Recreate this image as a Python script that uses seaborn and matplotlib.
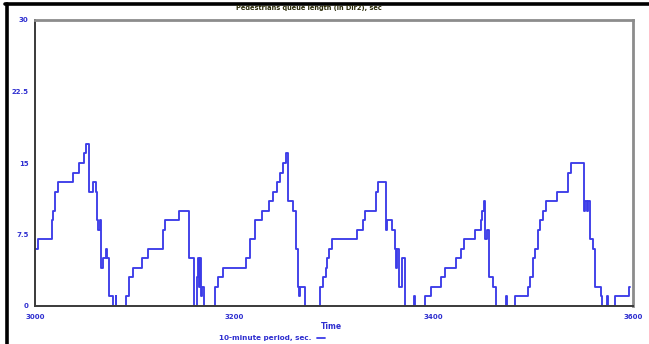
import matplotlib
matplotlib.use("Agg")
import matplotlib.pyplot as plt
from matplotlib.lines import Line2D
import seaborn as sns
import pandas as pd

# Queue length breakpoints (time in s, queue length in s); held until the next breakpoint
times = [3001, 3003, 3017, 3018, 3020, 3023, 3038, 3044, 3049, 3051,
         3054, 3058, 3061, 3062, 3063, 3065, 3066, 3068, 3071, 3072,
         3074, 3078, 3081, 3081.6, 3091, 3094, 3098, 3107, 3113, 3128,
         3130, 3144, 3155, 3160, 3163, 3164, 3165, 3166, 3167, 3168,
         3170, 3181, 3184, 3189, 3212, 3216, 3221, 3228, 3235, 3239,
         3243, 3246, 3249, 3252, 3254, 3259, 3262, 3264, 3265, 3266,
         3271, 3286, 3289, 3292, 3293, 3295, 3298, 3323, 3329, 3331,
         3342, 3344, 3352, 3353, 3358, 3361, 3362, 3363, 3365, 3368,
         3371, 3380, 3381, 3391, 3397, 3407, 3411, 3422, 3427, 3430,
         3441, 3447, 3448, 3451, 3452, 3454, 3456, 3460, 3463, 3473,
         3474, 3482, 3495, 3497, 3500, 3502, 3505, 3507, 3510, 3513,
         3524, 3535, 3538, 3551, 3552, 3554, 3555, 3557, 3560, 3562,
         3568, 3569, 3574, 3575, 3582, 3596, 3597]
queue = [6, 7, 9, 10, 12, 13, 14, 15, 16, 17,
         12, 13, 12, 9, 8, 9, 4, 5, 6, 5,
         1, 0, 1, 0, 1, 3, 4, 5, 6, 8,
         9, 10, 5, 0, 3, 5, 2, 5, 1, 2,
         0, 2, 3, 4, 5, 7, 9, 10, 11, 12,
         13, 14, 15, 16, 11, 10, 6, 2, 1, 2,
         0, 2, 3, 4, 5, 6, 7, 8, 9, 10,
         12, 13, 8, 9, 8, 6, 4, 6, 2, 5,
         0, 1, 0, 1, 2, 3, 4, 5, 6, 7,
         8, 9, 10, 11, 7, 8, 3, 2, 0, 1,
         0, 1, 2, 3, 5, 6, 8, 9, 10, 11,
         12, 14, 15, 10, 11, 10, 11, 7, 6, 2,
         1, 0, 1, 0, 1, 2, 2]

x_ticks = [3000, 3100, 3200, 3300, 3400, 3500, 3600]
x_tick_labels = ["3000", "", "3200", "", "3400", "", "3600"]
y_ticks = [0, 7.5, 15, 22.5, 30]
y_tick_labels = ["0", "7.5", "15", "22.5", "30"]

title = "Pedestrians queue length (in Dir2), sec"
x_label = "Time"
series_label = "10-minute period, sec."

line_blue = "#3c3ce8"
text_blue = "#2f2fd0"

sns.set_style("white")
plt.rcParams["font.family"] = ["DejaVu Sans"]

df = pd.DataFrame({"t": times, "q": queue})

fig = plt.figure(figsize=(6.49, 3.44), dpi=100)
ax = fig.add_axes([35 / 649, 1 - 306 / 344, 598 / 649, 286 / 344])

sns.lineplot(data=df, x="t", y="q", ax=ax, estimator=None, sort=False,
             drawstyle="steps-post", color=line_blue, linewidth=1.35,
             label=series_label, legend=False)

ax.set_xlim(3000, 3600)
ax.set_ylim(0, 30)
ax.set_xticks(x_ticks)
ax.set_xticklabels(x_tick_labels)
ax.set_yticks(y_ticks)
ax.set_yticklabels(y_tick_labels)
ax.tick_params(axis="x", direction="inout", length=6, width=1.3, color="#333333",
               pad=3, labelsize=5, labelcolor=text_blue)
ax.tick_params(axis="y", direction="out", length=2.5, width=1.2, color="#333333",
               pad=2, labelsize=5, labelcolor=text_blue)
for lab in ax.get_xticklabels() + ax.get_yticklabels():
    lab.set_fontweight("bold")

for side in ("left", "bottom"):
    ax.spines[side].set_color("#3a3a3a")
    ax.spines[side].set_linewidth(1.4)
for side in ("top", "right"):
    ax.spines[side].set_color("#8c8c8c")
    ax.spines[side].set_linewidth(2.0)

ax.set_xlabel(x_label, fontsize=5.5, fontweight="bold", color=text_blue)
ax.set_ylabel("")
ax.xaxis.set_label_coords((331 - 35) / 598, (306 - 322) / 286)

fig.text(309 / 649, 1 - 8 / 344, title, ha="center", va="center",
         fontsize=4.8, fontweight="bold", color="#2b2b08")

leg = fig.legend(handles=[Line2D([0], [0], color=line_blue, lw=1.3)],
                 labels=[series_label], loc="center",
                 bbox_to_anchor=(272 / 649, 1 - 338 / 344), markerfirst=False,
                 frameon=False, handlelength=1.1, handletextpad=0.8,
                 borderpad=0, prop={"size": 5.2, "weight": "bold"})
for txt in leg.get_texts():
    txt.set_color(text_blue)

# outer page frame along the top and left edges
fig.add_artist(Line2D([5 / 649, 1.0], [1 - 4 / 344, 1 - 4 / 344],
                      transform=fig.transFigure, color="black", lw=2.6))
fig.add_artist(Line2D([7 / 649, 7 / 649], [1 - 4 / 344, 0.0],
                      transform=fig.transFigure, color="black", lw=2.6))

fig.savefig("out.png", dpi=100)
